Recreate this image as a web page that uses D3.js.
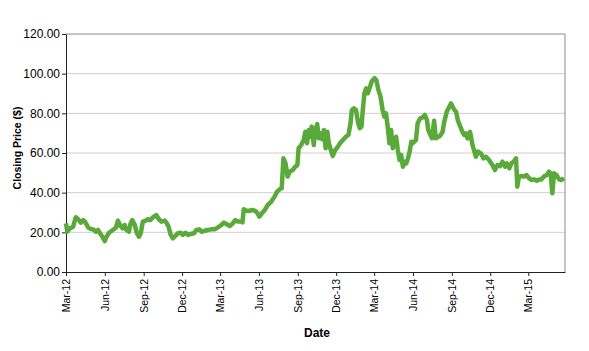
<!DOCTYPE html>
<html>
<head>
<meta charset="utf-8">
<script src="https://cdn.jsdelivr.net/npm/d3@7"></script>
<style>
  body { margin: 0; background: #fff; }
  svg { display: block; font-family: "Liberation Sans", Arial, sans-serif; }
</style>
</head>
<body>
<div id="chart"></div>
<script>
// closing prices (dates + values)
const dates = [
  '2012-03-01','2012-03-04','2012-03-10','2012-03-18','2012-03-24','2012-03-30','2012-04-05','2012-04-11',
  '2012-04-15','2012-04-23','2012-04-29','2012-05-04','2012-05-11','2012-05-16','2012-05-22','2012-05-27',
  '2012-06-01','2012-06-05','2012-06-11','2012-06-20','2012-06-27','2012-07-02','2012-07-08','2012-07-13',
  '2012-07-18','2012-07-22','2012-07-28','2012-08-01','2012-08-05','2012-08-11','2012-08-16','2012-08-21',
  '2012-08-25','2012-08-30','2012-09-06','2012-09-11','2012-09-17','2012-09-23','2012-10-01','2012-10-07',
  '2012-10-13','2012-10-21','2012-10-26','2012-10-30','2012-11-04','2012-11-09','2012-11-15','2012-11-21',
  '2012-11-28','2012-12-03','2012-12-09','2012-12-15','2012-12-21','2012-12-29','2013-01-04','2013-01-11',
  '2013-01-17','2013-01-23','2013-01-31','2013-02-08','2013-02-16','2013-02-24','2013-03-04','2013-03-10',
  '2013-03-16','2013-03-24','2013-03-31','2013-04-06','2013-04-12','2013-04-20','2013-04-23','2013-04-26',
  '2013-05-02','2013-05-10','2013-05-18','2013-05-26','2013-06-02','2013-06-08','2013-06-14','2013-06-22',
  '2013-06-30','2013-07-08','2013-07-14','2013-07-20','2013-07-25','2013-07-29','2013-08-03','2013-08-08',
  '2013-08-13','2013-08-20','2013-08-26','2013-08-31','2013-09-03','2013-09-09','2013-09-15','2013-09-19',
  '2013-09-23','2013-09-27','2013-10-01','2013-10-04','2013-10-09','2013-10-12','2013-10-17','2013-10-21',
  '2013-10-25','2013-10-29','2013-11-02','2013-11-06','2013-11-10','2013-11-13','2013-11-17','2013-11-23',
  '2013-11-28','2013-12-05','2013-12-11','2013-12-17','2013-12-24','2013-12-30','2014-01-04','2014-01-07',
  '2014-01-12','2014-01-17','2014-01-22','2014-01-26','2014-01-30','2014-02-02','2014-02-06','2014-02-10',
  '2014-02-14','2014-02-18','2014-02-23','2014-03-02','2014-03-06','2014-03-11','2014-03-16','2014-03-21',
  '2014-03-25','2014-03-29','2014-04-02','2014-04-06','2014-04-10','2014-04-14','2014-04-18','2014-04-22',
  '2014-04-26','2014-04-30','2014-05-04','2014-05-08','2014-05-12','2014-05-16','2014-05-20','2014-05-24',
  '2014-05-28','2014-05-31','2014-06-04','2014-06-08','2014-06-12','2014-06-18','2014-06-24','2014-06-29',
  '2014-07-04','2014-07-07','2014-07-12','2014-07-16','2014-07-21','2014-07-25','2014-07-31','2014-08-04',
  '2014-08-10','2014-08-14','2014-08-20','2014-08-26','2014-08-30','2014-09-03','2014-09-07','2014-09-11',
  '2014-09-15','2014-09-21','2014-09-26','2014-09-30','2014-10-04','2014-10-08','2014-10-14','2014-10-20',
  '2014-10-28','2014-11-02','2014-11-09','2014-11-15','2014-11-21','2014-11-28','2014-12-06','2014-12-12',
  '2014-12-18','2014-12-24','2014-12-30','2015-01-05','2015-01-09','2015-01-15','2015-01-20','2015-01-25',
  '2015-01-31','2015-02-03','2015-02-07','2015-02-13','2015-02-19','2015-02-25','2015-03-03','2015-03-09',
  '2015-03-15','2015-03-21','2015-03-27','2015-04-01','2015-04-07','2015-04-14','2015-04-19','2015-04-23',
  '2015-04-27','2015-05-01','2015-05-07','2015-05-13','2015-05-18','2015-05-25'
];
const prices = [
  24.5, 20.3, 22.0, 22.8, 27.6, 26.6, 24.9, 26.2,
  25.4, 22.3, 21.7, 21.5, 20.3, 21.2, 19.0, 17.5,
  15.6, 17.8, 19.8, 21.2, 22.3, 25.9, 23.2, 22.0,
  23.7, 21.2, 20.3, 24.5, 26.2, 23.7, 19.5, 17.8,
  19.5, 25.4, 25.9, 26.6, 26.2, 27.6, 28.7, 26.6,
  25.4, 25.9, 24.5, 22.8, 18.7, 17.0, 18.2, 19.5,
  19.8, 18.7, 19.8, 18.7, 19.2, 19.5, 21.2, 21.5,
  20.3, 20.8, 21.2, 21.5, 21.5, 22.5, 23.7, 24.9,
  24.2, 23.2, 24.5, 26.2, 25.4, 25.4, 25.0, 31.6,
  30.9, 30.9, 31.3, 30.4, 27.9, 29.6, 31.0, 33.8,
  35.4, 38.0, 40.5, 41.7, 42.2, 57.3, 54.8, 48.1,
  50.6, 51.4, 53.1, 53.9, 62.4, 64.0, 66.6, 70.7,
  64.9, 71.6, 68.2, 73.3, 64.0, 70.7, 74.6, 67.4,
  69.9, 66.9, 71.6, 62.4, 70.7, 65.7, 62.4, 58.5,
  61.2, 63.2, 65.2, 66.6, 68.2, 69.1, 75.0, 81.7,
  82.5, 81.7, 75.0, 72.5, 73.3, 81.7, 90.4, 92.6,
  90.1, 92.6, 96.0, 97.7, 96.8, 91.8, 88.4, 81.7,
  78.3, 80.0, 73.3, 64.9, 71.6, 62.4, 66.6, 68.2,
  61.5, 56.5, 59.0, 53.1, 55.6, 54.8, 57.3, 60.7,
  65.7, 64.9, 65.7, 66.6, 75.0, 77.5, 78.0, 79.2,
  76.6, 71.6, 69.1, 67.4, 76.3, 67.4, 68.2, 68.6,
  70.7, 75.8, 80.8, 83.3, 85.0, 83.3, 81.7, 80.8,
  76.6, 73.3, 70.7, 69.1, 69.9, 67.4, 70.7, 64.0,
  58.1, 60.7, 59.8, 57.3, 58.1, 56.5, 53.9, 51.4,
  53.9, 53.4, 55.6, 53.1, 54.8, 52.3, 54.8, 55.6,
  57.3, 43.0, 48.1, 48.4, 48.1, 48.9, 47.2, 46.4,
  46.7, 46.0, 46.7, 46.7, 48.1, 48.9, 50.6, 49.8,
  39.7, 49.8, 48.9, 46.7, 46.4, 47.2
];
const tickDates = ['2012-03-01','2012-06-01','2012-09-01','2012-12-01','2013-03-01','2013-06-01',
  '2013-09-01','2013-12-01','2014-03-01','2014-06-01','2014-09-01','2014-12-01','2015-03-01'];
const yTicks = [0, 20, 40, 60, 80, 100, 120];
const xDomain = ['2012-03-01', '2015-05-27'];

const parse = d3.timeParse('%Y-%m-%d');
const data = dates.map((d, i) => ({date: parse(d), price: prices[i]}));

const width = 589;
const height = 351;
const margin = {top: 34, right: 24, bottom: 79, left: 66};

const svg = d3.select('#chart')
    .append('svg')
        .attr('width', width)
        .attr('height', height);

const x = d3.scaleTime()
    .domain(xDomain.map(parse))
    .range([margin.left, width - margin.right]);
const y = d3.scaleLinear()
    .domain([0, 120])
    .range([height - margin.bottom, margin.top]);

// gridlines
svg.append('g')
    .selectAll('line')
    .data(yTicks.slice(1, -1))
    .join('line')
        .attr('x1', margin.left)
        .attr('x2', width - margin.right)
        .attr('y1', d => y(d))
        .attr('y2', d => y(d))
        .attr('stroke', '#cfcfcf')
        .attr('stroke-width', 1);

// top + right border
svg.append('path')
    .attr('d', `M${margin.left},${y(120)}H${width - margin.right}V${y(0)}`)
    .attr('fill', 'none')
    .attr('stroke', '#8a8a8a')
    .attr('stroke-width', 1);

// axes
const xx = g =>
    g
        .attr('transform', `translate(0,${y(0)})`)
        .call(d3.axisBottom(x)
            .tickValues(tickDates.map(parse))
            .tickFormat(d3.timeFormat('%b-%y'))
            .tickSize(4)
            .tickSizeOuter(0))
        .call(g => g.select('.domain').attr('stroke', '#222'))
        .call(g => g.selectAll('.tick line').attr('stroke', '#222'))
        .call(g => g.selectAll('.tick text')
            .attr('transform', 'rotate(-90)')
            .attr('x', -7)
            .attr('y', 0)
            .attr('dy', '0.35em')
            .attr('text-anchor', 'end')
            .attr('fill', '#000')
            .style('font-size', '10.5px'));
const yy = g =>
    g
        .attr('transform', `translate(${margin.left},0)`)
        .call(d3.axisLeft(y)
            .tickValues(yTicks)
            .tickFormat(d3.format('.2f'))
            .tickSize(4)
            .tickSizeOuter(0))
        .call(g => g.select('.domain').attr('stroke', '#222'))
        .call(g => g.selectAll('.tick line').attr('stroke', '#222'))
        .call(g => g.selectAll('.tick text')
            .attr('x', -6)
            .attr('fill', '#000')
            .style('font-size', '12px'));

svg.append('g').call(xx);
svg.append('g').call(yy);

// axis titles
svg.append('text')
    .attr('x', 317)
    .attr('y', 337)
    .attr('text-anchor', 'middle')
    .style('font-size', '12px')
    .style('font-weight', 'bold')
    .text('Date');
svg.append('text')
    .attr('transform', `translate(21,148) rotate(-90)`)
    .attr('text-anchor', 'middle')
    .style('font-size', '10.5px')
    .style('font-weight', 'bold')
    .text('Closing Price ($)');

// price line
const line = d3.line()
    .x(d => x(d.date))
    .y(d => y(d.price));

svg.append('path')
    .datum(data)
        .attr('fill', 'none')
        .attr('stroke', '#5aaa3b')
        .attr('stroke-width', 4.5)
        .attr('stroke-linejoin', 'round')
        .attr('stroke-linecap', 'butt')
        .attr('d', line);
</script>
</body>
</html>
